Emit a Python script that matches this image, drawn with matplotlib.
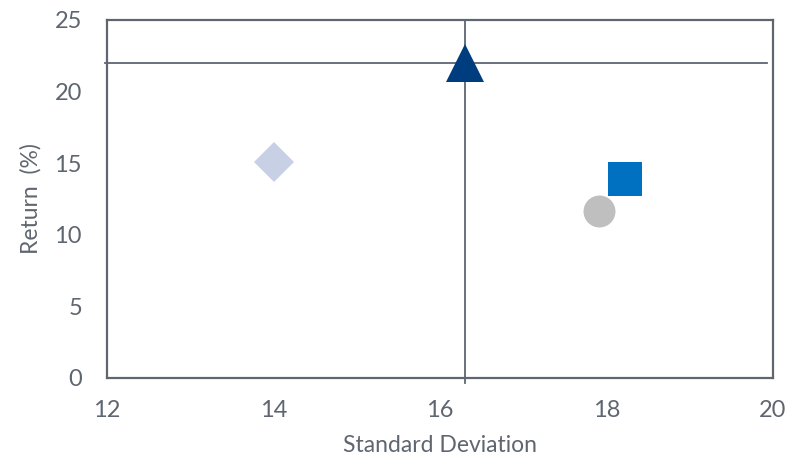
import matplotlib
matplotlib.use("Agg")
import matplotlib.pyplot as plt

# data
std_dev = [14.0, 16.3, 18.22, 17.91]
returns = [15.1, 22.0, 13.9, 11.66]
markers = ["D", "^", "s", "o"]
colors = ["#c8d0e6", "#003d7f", "#0070c0", "#bfbfbf"]
sizes = [20, 28, 24.5, 23]

# crosshair lines (value of the highlighted point)
hline_y = 22.0
hline_x = [11.97, 19.93]
vline_x = 16.3
vline_y = [-0.35, 25.0]

xticks = [12, 14, 16, 18, 20]
yticks = [0, 5, 10, 15, 20, 25]

gray = "#5f6670"
plt.rcParams["font.family"] = ["Lato", "DejaVu Sans"]

fig = plt.figure(figsize=(8.05, 4.63), dpi=100)
ax = fig.add_axes([107/805, 1-378/463, (773-107)/805, (378-20)/463])

ax.plot(hline_x, [hline_y, hline_y], color=gray, lw=1.3, clip_on=False, zorder=2)
ax.plot([vline_x, vline_x], vline_y, color=gray, lw=1.3, clip_on=False, zorder=2)

for x, y, m, c, s in zip(std_dev, returns, markers, colors, sizes):
    ax.plot([x], [y], marker=m, color=c, markersize=s, markeredgewidth=0,
            linestyle="none", clip_on=False, zorder=3)

ax.set_xlim(12, 20)
ax.set_ylim(0, 25)
ax.set_xticks(xticks)
ax.set_yticks(yticks)
ax.tick_params(length=0, labelsize=17, colors=gray)
ax.tick_params(axis="x", pad=16)
ax.tick_params(axis="y", pad=18)
for sp in ax.spines.values():
    sp.set_color(gray)
    sp.set_linewidth(1.6)

ax.set_xlabel("Standard Deviation", fontsize=16.5, color=gray, labelpad=10)
ax.set_ylabel("Return  (%)", fontsize=16.5, color=gray, labelpad=9)

fig.savefig("out.png", dpi=100)
